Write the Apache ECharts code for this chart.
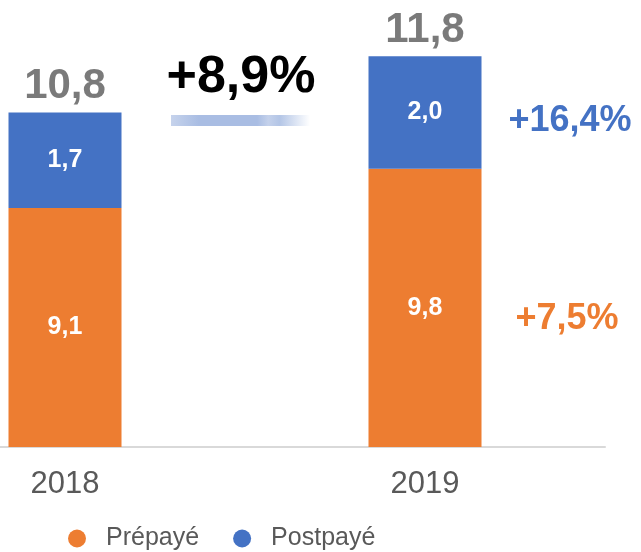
<!DOCTYPE html>
<html>
<head>
<meta charset="utf-8">
<script src="https://cdn.jsdelivr.net/npm/echarts@6/dist/echarts.min.js"></script>
<style>
  html, body { margin: 0; padding: 0; background: #fff; }
  #chart { width: 641px; height: 552px; }
</style>
</head>
<body>
<div id="chart"></div>
<script>
// données
var years = ['2018', '2019'];
var prepaye = [9.1, 9.8];
var postpaye = [1.7, 2.0];
var totals = [10.8, 11.8];
var growthTotal = '+8,9%';
var growthPost = '+16,4%';
var growthPre = '+7,5%';

var orange = '#ED7D31';
var blue = '#4472C4';
var grey = '#595959';
var font = '"Liberation Sans", Arial, sans-serif';

function fr(v) { return v.toFixed(1).replace('.', ','); }

var myChart = echarts.init(document.getElementById('chart'));
var option = {
  animation: false,
  grid: { left: -115, width: 720, top: 0, height: 447, outerBoundsMode: 'none', containLabel: false },
  legend: {
    data: ['Prépayé', 'Postpayé'],
    left: 68, top: 526, padding: 0,
    icon: 'circle',
    itemWidth: 48, itemHeight: 18, itemGap: 34,
    textStyle: { fontFamily: font, fontSize: 25, color: grey }
  },
  xAxis: {
    type: 'category',
    data: years,
    axisLine: { lineStyle: { color: '#D9D9D9', width: 2 } },
    axisTick: { show: false },
    axisLabel: { margin: 22, fontFamily: font, fontSize: 31, color: grey }
  },
  yAxis: {
    type: 'value',
    min: 4.85, max: 12.8,
    show: false,
    splitLine: { show: false }
  },
  series: [
    {
      name: 'Prépayé', type: 'bar', stack: 'total', barWidth: 113,
      itemStyle: { color: orange },
      label: { show: true, position: 'inside', color: '#fff', fontFamily: font, fontWeight: 'bold', fontSize: 25,
        formatter: function (p) { return fr(p.value); } },
      data: prepaye
    },
    {
      name: 'Postpayé', type: 'bar', stack: 'total', barWidth: 113,
      itemStyle: { color: blue },
      label: { show: true, position: 'inside', color: '#fff', fontFamily: font, fontWeight: 'bold', fontSize: 25,
        formatter: function (p) { return fr(p.value); } },
      data: postpaye
    },
    {
      name: 'Total', type: 'scatter', symbolSize: 0, silent: true,
      label: { show: true, position: 'top', distance: 5, color: grey, fontFamily: font, fontWeight: 'bold', fontSize: 42,
        formatter: function (p) { return fr(p.value); } },
      data: totals
    }
  ],
  graphic: [
    {
      type: 'text', x: 241, y: 78,
      style: { text: growthTotal, fill: '#000', font: 'bold 52px ' + font, textAlign: 'center', textVerticalAlign: 'middle' }
    },
    {
      type: 'rect', shape: { x: 171, y: 115, width: 139, height: 11 },
      style: {
        fill: new echarts.graphic.LinearGradient(0, 0, 1, 0, [
          { offset: 0, color: '#c6d3ec' },
          { offset: 0.2, color: '#a9bde3' },
          { offset: 0.62, color: '#a9bde3' },
          { offset: 0.7, color: '#c4d1eb' },
          { offset: 0.78, color: '#b3c5e6' },
          { offset: 1, color: '#ffffff' }
        ])
      }
    },
    {
      type: 'text', x: 570, y: 121,
      style: { text: growthPost, fill: blue, font: 'bold 36px ' + font, textAlign: 'center', textVerticalAlign: 'middle' }
    },
    {
      type: 'text', x: 567, y: 319,
      style: { text: growthPre, fill: orange, font: 'bold 36px ' + font, textAlign: 'center', textVerticalAlign: 'middle' }
    }
  ]
};
myChart.setOption(option);
</script>
</body>
</html>
